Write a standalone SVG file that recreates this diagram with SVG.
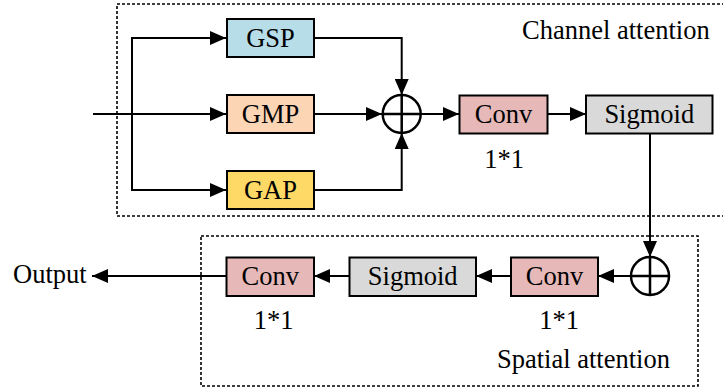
<svg xmlns="http://www.w3.org/2000/svg" width="723" height="392" viewBox="0 0 723 392">
  <defs>
    <marker id="arrow" viewBox="0 0 16 14" refX="16" refY="7" markerWidth="16" markerHeight="14" markerUnits="userSpaceOnUse" orient="auto">
      <path d="M0,0 L16,7 L0,14 Z" fill="#000"/>
    </marker>
    <style>
      .box { stroke: #000; stroke-width: 2; }
      .gsp { fill: #b7dde8; }
      .gmp { fill: #fcd5b5; }
      .gap { fill: #ffd966; }
      .conv { fill: #e6b9b8; }
      .sig { fill: #d9d9d9; }
      text { font-family: 'Liberation Serif', 'DejaVu Serif', serif; font-size: 26.5px; fill: #000; }
      .mid { text-anchor: middle; }
      .frame { fill: none; stroke: #000; stroke-width: 1.6; stroke-dasharray: 3 2; }
      .wire { fill: none; stroke: #000; stroke-width: 2; }
      .sum { fill: none; stroke: #000; stroke-width: 2.5; }
    </style>
  </defs>

  <rect width="723" height="392" fill="#fff"/>

  <!-- module frames -->
  <g id="channel-frame">
    <path class="frame" d="M725,4 H117 V216 H725"/>
    <text x="522" y="39">Channel attention</text>
  </g>
  <g id="spatial-frame">
    <rect class="frame" x="201" y="236" width="497" height="150"/>
    <text x="497" y="368">Spatial attention</text>
  </g>

  <!-- connectors -->
  <g id="connectors">
    <path class="wire" d="M93,114 H226" marker-end="url(#arrow)"/>
    <path class="wire" d="M132,114 V38 H226" marker-end="url(#arrow)"/>
    <path class="wire" d="M132,114 V190 H226" marker-end="url(#arrow)"/>
    <path class="wire" d="M314,38 H401.7 V95" marker-end="url(#arrow)"/>
    <path class="wire" d="M314,114 H382" marker-end="url(#arrow)"/>
    <path class="wire" d="M314,190 H401.7 V133" marker-end="url(#arrow)"/>
    <path class="wire" d="M421,114 H459" marker-end="url(#arrow)"/>
    <path class="wire" d="M547,114 H586" marker-end="url(#arrow)"/>
    <path class="wire" d="M650,133 V257" marker-end="url(#arrow)"/>
    <path class="wire" d="M631,276 H598" marker-end="url(#arrow)"/>
    <path class="wire" d="M511,276 H476" marker-end="url(#arrow)"/>
    <path class="wire" d="M349,276 H314" marker-end="url(#arrow)"/>
    <path class="wire" d="M226,276 H92" marker-end="url(#arrow)"/>
  </g>

  <!-- channel attention branch -->
  <g id="gsp">
    <rect class="box gsp" x="227" y="19" width="87" height="38"/>
    <text class="mid" x="270.5" y="46.5">GSP</text>
  </g>
  <g id="gmp">
    <rect class="box gmp" x="227" y="95" width="87" height="38"/>
    <text class="mid" x="270.5" y="122.5">GMP</text>
  </g>
  <g id="gap">
    <rect class="box gap" x="227" y="171" width="87" height="38"/>
    <text class="mid" x="270.5" y="198.5">GAP</text>
  </g>
  <g id="sum-channel">
    <circle class="sum" cx="401.7" cy="114" r="19"/>
    <path class="sum" d="M382.7,114 H420.7 M401.7,95 V133"/>
  </g>
  <g id="conv-channel">
    <rect class="box conv" x="459.5" y="95.5" width="88" height="38"/>
    <text class="mid" x="503.5" y="123">Conv</text>
    <text class="mid" x="504" y="168">1*1</text>
  </g>
  <g id="sigmoid-channel">
    <rect class="box sig" x="586" y="95.5" width="126.5" height="38"/>
    <text class="mid" x="649.3" y="123">Sigmoid</text>
  </g>

  <!-- spatial attention branch -->
  <g id="sum-spatial">
    <circle class="sum" cx="650" cy="276" r="19"/>
    <path class="sum" d="M631,276 H669 M650,257 V295"/>
  </g>
  <g id="conv-spatial-1">
    <rect class="box conv" x="511" y="257.5" width="87" height="38.5"/>
    <text class="mid" x="554.5" y="285">Conv</text>
    <text class="mid" x="559" y="329">1*1</text>
  </g>
  <g id="sigmoid-spatial">
    <rect class="box sig" x="349.5" y="257.5" width="126.5" height="38.5"/>
    <text class="mid" x="412.7" y="285">Sigmoid</text>
  </g>
  <g id="conv-spatial-2">
    <rect class="box conv" x="226.5" y="257.5" width="87.5" height="38.5"/>
    <text class="mid" x="270.3" y="285">Conv</text>
    <text class="mid" x="273.5" y="329">1*1</text>
  </g>
  <g id="output">
    <text x="13" y="283">Output</text>
  </g>
</svg>
